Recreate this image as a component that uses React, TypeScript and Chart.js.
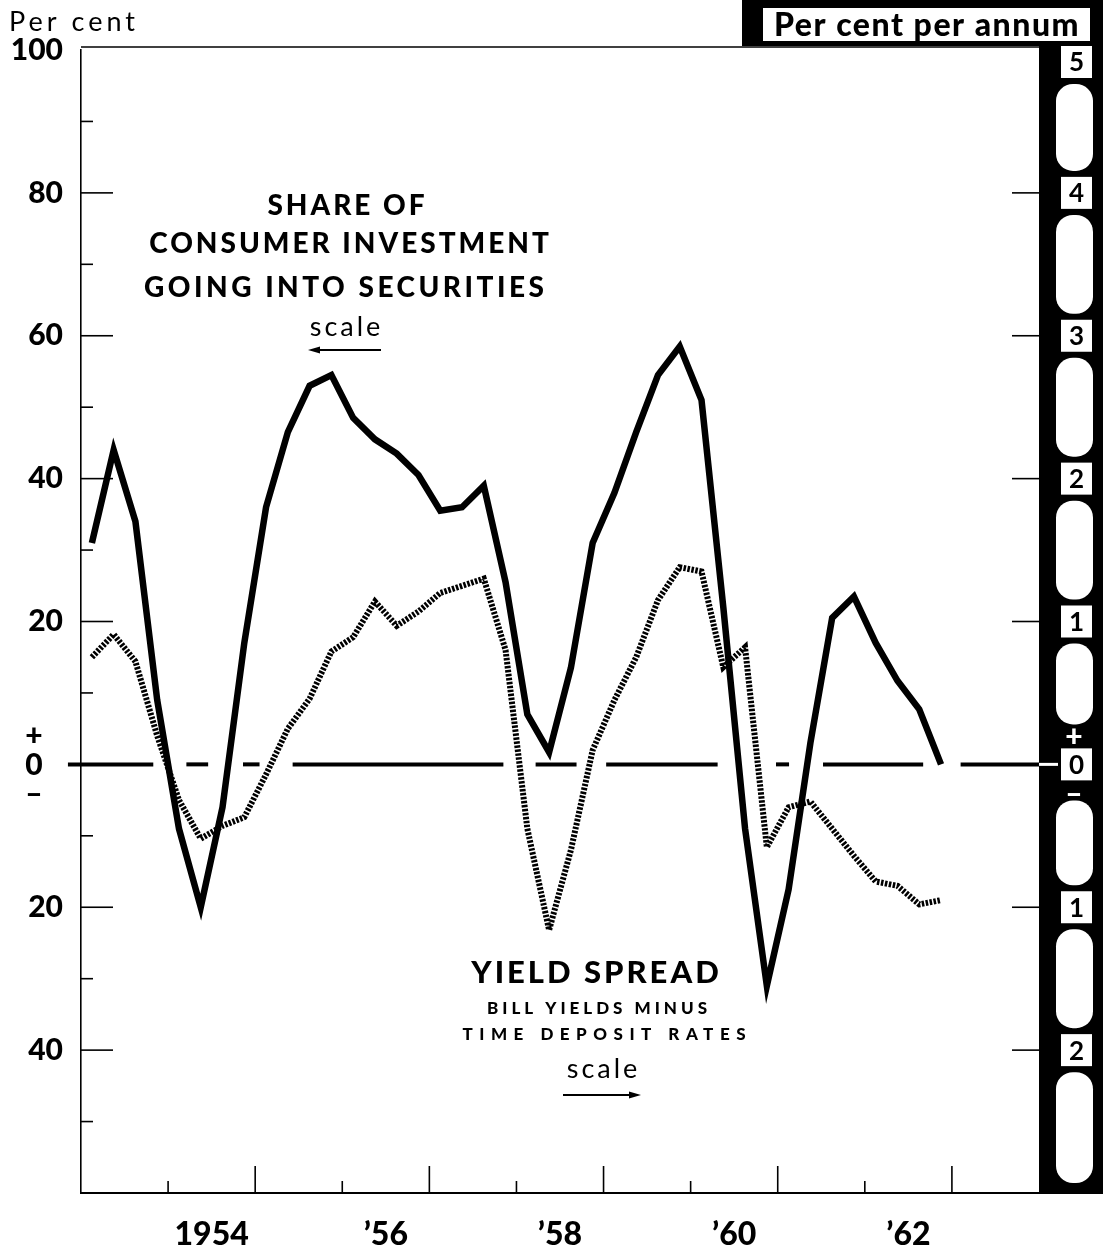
import React, { useEffect, useRef } from "react";
import { Chart, registerables } from "chart.js";

Chart.register(...registerables);

// ---------- data ----------
const years = [1953, 1954, 1955, 1956, 1957, 1958, 1959, 1960, 1961, 1962];

// Share of consumer investment going into securities (per cent, left scale), quarterly
const shareOfInvestment = [
  31, 44, 34, 9,
  -9, -20, -6, 17,
  36, 46.5, 53, 54.5,
  48.5, 45.5, 43.5, 40.5,
  35.5, 36, 39, 25.5,
  7, 1.7, 13.5, 31,
  38, 46.5, 54.5, 58.5,
  51, 22, -9, -31,
  -17.5, 3, 20.5, 23.5,
  17, 11.7, 7.7, 0,
];

// Yield spread: bill yields minus time deposit rates (per cent per annum, right scale), quarterly
const yieldSpread = [
  0.75, 0.91, 0.72, 0.2,
  -0.25, -0.52, -0.43, -0.37,
  -0.07, 0.25, 0.46, 0.79,
  0.89, 1.14, 0.97, 1.07,
  1.2, 1.25, 1.3, 0.8,
  -0.45, -1.16, -0.6, 0.1,
  0.45, 0.75, 1.15, 1.38,
  1.35, 0.68, 0.82, -0.58,
  -0.3, -0.26, -0.45, -0.64,
  -0.82, -0.85, -0.98, -0.95,
];

const xTickValues = [1954.5, 1956.5, 1958.5, 1960.5, 1962.5];
const xTickLabels = ["1954", "\u201956", "\u201958", "\u201960", "\u201962"];
const xTallTicks = [1955, 1957, 1959, 1961, 1963];
const xShortTicks = [1954, 1956, 1958, 1960, 1962];

const leftTickValues = [100, 80, 60, 40, 20, 0, -20, -40];
const leftTickLabels = ["100", "80", "60", "40", "20", "", "20", "40"];
const leftMajorTicks = [80, 60, 40, 20, -20, -40];
const leftMinorTicks = [90, 70, 50, 30, 10, -10, -30, -50];

const rightTickValues = [5, 4, 3, 2, 1, 0, -1, -2];
const rightTickLabels = ["5", "4", "3", "2", "1", "0", "1", "2"];
const rightMajorTicks = [4, 3, 2, 1, -1, -2];

// dashed zero line pieces (in years)
const zeroLineSegments: [number, number][] = [
  [1952.85, 1953.83],
  [1954.21, 1954.46],
  [1954.86, 1955.05],
  [1955.43, 1957.85],
  [1958.22, 1958.69],
  [1959.03, 1960.31],
  [1960.98, 1961.13],
  [1961.52, 1962.67],
  [1963.1, 1964.0],
];

const FONT = "Lato, 'Open Sans', 'DejaVu Sans', sans-serif";
const W = 1103;
const H = 1248;

function quarterX(i: number) {
  return years[Math.floor(i / 4)] + ((i % 4) + 0.5) / 4;
}

const decorPlugin = {
  id: "decor",
  beforeDatasetsDraw(chart: any) {
    const { ctx, chartArea: a, scales } = chart;
    const y = scales.y;
    const y2 = scales.y2;
    const x = scales.x;
    ctx.save();
    ctx.strokeStyle = "#000";
    ctx.lineWidth = 1.6;
    const ln = (x1: number, y1: number, x2: number, y2p: number) => {
      ctx.beginPath();
      ctx.moveTo(x1, y1);
      ctx.lineTo(x2, y2p);
      ctx.stroke();
    };
    ln(a.left, a.top - 3, a.right, a.top - 3);
    leftMajorTicks.forEach((v) => {
      const p = y.getPixelForValue(v);
      ln(a.left, p, a.left + 32, p);
    });
    leftMinorTicks.forEach((v) => {
      const p = y.getPixelForValue(v);
      ln(a.left, p, a.left + 12, p);
    });
    rightMajorTicks.forEach((v) => {
      const p = y2.getPixelForValue(v);
      ln(a.right - 27, p, a.right, p);
    });
    xTallTicks.forEach((v) => {
      const p = x.getPixelForValue(v);
      ln(p, a.bottom, p, a.bottom - 27);
    });
    xShortTicks.forEach((v) => {
      const p = x.getPixelForValue(v);
      ln(p, a.bottom, p, a.bottom - 12);
    });
    ctx.restore();
  },
  afterDraw(chart: any) {
    const { ctx, chartArea: a, scales } = chart;
    const y = scales.y;
    const y2 = scales.y2;
    ctx.save();

    // ---- right black band + header ----
    ctx.fillStyle = "#000";
    ctx.fillRect(742, 0, W - 742, 46);
    ctx.fillRect(a.right, 0, W - a.right, a.bottom + 1);
    ctx.fillStyle = "#fff";
    ctx.fillRect(763, 8, 327, 33);
    ctx.fillStyle = "#000";
    ctx.font = `900 32px ${FONT}`;
    ctx.textAlign = "center";
    ctx.textBaseline = "alphabetic";
    (ctx as any).letterSpacing = "1.5px";
    ctx.fillText("Per cent per annum", 927, 36);
    (ctx as any).letterSpacing = "0px";

    // white zero stub in band
    const z2 = y2.getPixelForValue(0);
    ctx.strokeStyle = "#fff";
    ctx.lineWidth = 3;
    ctx.beginPath();
    ctx.moveTo(a.right, z2);
    ctx.lineTo(1058, z2);
    ctx.stroke();

    // boxes and pills
    const boxes: { top: number; bottom: number }[] = [];
    rightTickValues.forEach((v, i) => {
      const p = y2.getPixelForValue(v);
      let top = p - 16;
      if (top < 46) top = 46;
      const bottom = top + 32;
      boxes.push({ top, bottom });
      ctx.fillStyle = "#fff";
      ctx.fillRect(1061, top, 31, 32);
      ctx.fillStyle = "#000";
      ctx.font = `bold 26px ${FONT}`;
      ctx.textAlign = "center";
      ctx.textBaseline = "middle";
      ctx.fillText(rightTickLabels[i], 1076.5, (top + bottom) / 2 + 1);
    });
    for (let i = 0; i < rightTickValues.length; i++) {
      const v = rightTickValues[i];
      let t = boxes[i].bottom + 6;
      let b: number;
      if (i + 1 < rightTickValues.length) {
        b = boxes[i + 1].top - 6;
      } else {
        b = a.bottom - 10;
      }
      if (rightTickValues[i + 1] === 0) b = boxes[i + 1].top - 24;
      if (v === 0) t = boxes[i].bottom + 20;
      ctx.fillStyle = "#fff";
      ctx.beginPath();
      (ctx as any).roundRect(1056, t, 37, b - t, 17);
      ctx.fill();
    }
    ctx.fillStyle = "#fff";
    ctx.font = `900 30px ${FONT}`;
    ctx.textAlign = "center";
    ctx.textBaseline = "middle";
    ctx.fillText("+", 1074, z2 - 27);
    ctx.fillText("\u2013", 1074, z2 + 30);

    // ---- left +0- label ----
    const z = y.getPixelForValue(0);
    ctx.fillStyle = "#000";
    ctx.font = `900 30px ${FONT}`;
    ctx.fillText("+", 34, z - 28);
    ctx.fillText("0", 34, z + 1);
    ctx.fillText("\u2013", 34, z + 30);

    // ---- "Per cent" ----
    ctx.font = `400 27px ${FONT}`;
    ctx.textAlign = "left";
    ctx.textBaseline = "alphabetic";
    (ctx as any).letterSpacing = "4px";
    ctx.fillText("Per cent", 9, 31);

    // ---- annotations ----
    const centerText = (s: string, cx: number, by: number, font: string, ls: number) => {
      ctx.font = font;
      (ctx as any).letterSpacing = `${ls}px`;
      ctx.textAlign = "center";
      ctx.textBaseline = "alphabetic";
      ctx.fillText(s, cx + ls / 2, by);
    };
    ctx.fillStyle = "#000";
    centerText("SHARE OF", 346, 215, `900 28px ${FONT}`, 3);
    centerText("CONSUMER INVESTMENT", 349, 253, `900 28px ${FONT}`, 3);
    centerText("GOING INTO SECURITIES", 344, 297, `900 28px ${FONT}`, 3.5);
    centerText("scale", 345, 336, `400 27px ${FONT}`, 3);
    centerText("YIELD SPREAD", 595, 983, `900 31px ${FONT}`, 3);
    centerText("BILL YIELDS MINUS", 597, 1014, `900 17px ${FONT}`, 4);
    centerText("TIME DEPOSIT RATES", 604, 1040, `900 17px ${FONT}`, 6.5);
    centerText("scale", 602, 1078, `400 27px ${FONT}`, 3);
    (ctx as any).letterSpacing = "0px";

    const arrow = (x1: number, x2: number, yy: number) => {
      const dir = Math.sign(x2 - x1);
      ctx.strokeStyle = "#000";
      ctx.lineWidth = 2;
      ctx.beginPath();
      ctx.moveTo(x1, yy);
      ctx.lineTo(x2 - dir * 8, yy);
      ctx.stroke();
      ctx.beginPath();
      ctx.moveTo(x2, yy);
      ctx.lineTo(x2 - dir * 12, yy - 3.5);
      ctx.lineTo(x2 - dir * 12, yy + 3.5);
      ctx.closePath();
      ctx.fill();
    };
    arrow(381, 308, 350);
    arrow(563, 641, 1095);

    ctx.restore();
  },
};

export default function App() {
  const ref = useRef<HTMLCanvasElement>(null);

  useEffect(() => {
    document.body.style.margin = "0";
    const canvas = ref.current;
    if (!canvas) return;

    const zeroSets = zeroLineSegments.map((s) => ({
      type: "line" as const,
      data: [
        { x: s[0], y: 0 },
        { x: s[1], y: 0 },
      ],
      yAxisID: "y",
      borderColor: "#000",
      borderWidth: 4,
      pointRadius: 0,
      clip: false as any,
      order: 3,
    }));

    const chart = new Chart(canvas, {
      type: "line",
      data: {
        datasets: [
          {
            label: "Share of consumer investment going into securities",
            data: shareOfInvestment.map((v, i) => ({ x: quarterX(i), y: v })),
            yAxisID: "y",
            borderColor: "#000",
            borderWidth: 6.5,
            borderJoinStyle: "miter",
            pointRadius: 0,
            tension: 0,
            order: 0,
          },
          {
            label: "Yield spread",
            data: yieldSpread.map((v, i) => ({ x: quarterX(i), y: v })),
            yAxisID: "y2",
            borderColor: "#000",
            borderWidth: 6,
            borderDash: [2.5, 1.5],
            borderCapStyle: "butt",
            pointRadius: 0,
            tension: 0,
            order: 1,
          },
          ...zeroSets,
        ],
      },
      options: {
        responsive: false,
        animation: false,
        devicePixelRatio: 1,
        layout: { padding: { top: 50, right: 64, left: 0, bottom: 0 } },
        plugins: {
          legend: { display: false },
          tooltip: { enabled: false },
        },
        scales: {
          x: {
            type: "linear",
            min: 1953,
            max: 1964,
            grid: { display: false, drawTicks: false },
            border: { display: true, color: "#000", width: 2 },
            afterFit: (s: any) => {
              s.height = 55;
            },
            afterBuildTicks: (s: any) => {
              s.ticks = xTickValues.map((v) => ({ value: v }));
            },
            ticks: {
              autoSkip: false,
              maxRotation: 0,
              padding: 22,
              color: "#000",
              font: { family: FONT, size: 32, weight: "900" as any },
              callback: (v: any) => {
                const i = xTickValues.indexOf(Number(v));
                return i >= 0 ? xTickLabels[i] : "";
              },
            },
          },
          y: {
            type: "linear",
            position: "left",
            min: -60,
            max: 100,
            grid: { display: false, drawTicks: false },
            border: { display: true, color: "#000", width: 1.6 },
            afterFit: (s: any) => {
              s.width = 81;
            },
            afterBuildTicks: (s: any) => {
              s.ticks = leftTickValues.map((v) => ({ value: v }));
            },
            ticks: {
              autoSkip: false,
              padding: 18,
              color: "#000",
              font: { family: FONT, size: 30, weight: "900" as any },
              callback: (v: any) => {
                const i = leftTickValues.indexOf(Number(v));
                return i >= 0 ? leftTickLabels[i] : "";
              },
            },
          },
          y2: {
            type: "linear",
            position: "right",
            display: false,
            min: -3,
            max: 5,
          },
        },
      } as any,
      plugins: [decorPlugin],
    });

    return () => chart.destroy();
  }, []);

  return (
    <div style={{ width: W, height: H, position: "relative", background: "#fff" }}>
      <canvas ref={ref} width={W} height={H} style={{ display: "block", width: W, height: H }} />
    </div>
  );
}
